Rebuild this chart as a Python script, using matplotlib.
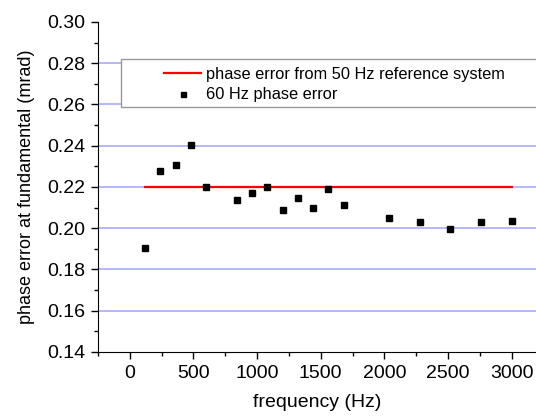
import numpy as np
import matplotlib.pyplot as plt
from matplotlib.patches import Rectangle
from matplotlib.ticker import MultipleLocator

plt.rcParams['font.family'] = ['Liberation Sans', 'DejaVu Sans']

freq = np.array([120, 240, 360, 480, 600, 840, 960, 1080, 1200, 1320,
                 1440, 1560, 1680, 2040, 2280, 2520, 2760, 3000])
phase_err = np.array([0.1903, 0.2278, 0.2309, 0.2404, 0.2202, 0.2135, 0.2172,
                      0.2202, 0.2088, 0.2146, 0.2098, 0.2190, 0.2114, 0.2049,
                      0.2030, 0.1994, 0.2031, 0.2035])

# reference level from the 50 Hz system
ref_freq = np.array([120, 3000])
ref_err = np.array([0.22, 0.22])

fig = plt.figure(figsize=(5.36, 4.2), dpi=100)
ax = fig.add_axes([98/536, 68/420, 1 - 98/536, 330/420])

ax.plot(ref_freq, ref_err, color='#ff0000', lw=1.6, zorder=3,
        label='phase error from 50 Hz reference system')
ax.plot(freq, phase_err, 's', color='black', ms=4.5, zorder=4,
        label='60 Hz phase error')

ax.set_xlim(-250, 3192)
ax.set_ylim(0.14, 0.30)
ax.xaxis.set_major_locator(MultipleLocator(500))
ax.xaxis.set_minor_locator(MultipleLocator(250))
ax.yaxis.set_major_locator(MultipleLocator(0.02))
ax.yaxis.set_minor_locator(MultipleLocator(0.01))
ax.yaxis.set_major_formatter(plt.FormatStrFormatter('%.2f'))

# horizontal grid only at the inner major ticks
inner = [t for t in ax.get_yticks() if 0.145 < t < 0.295]
ax.hlines(inner, 0, 1, transform=ax.get_yaxis_transform(),
          color='#aaaaff', lw=1.2, zorder=1)

for s in ['top', 'right']:
    ax.spines[s].set_visible(False)
ax.tick_params(which='major', direction='out', length=5, width=1, labelsize=14, pad=4)
ax.tick_params(which='minor', direction='out', length=3, width=1)

ax.set_xlabel('frequency (Hz)', fontsize=14, labelpad=9)
ax.set_ylabel('phase error at fundamental (mrad)', fontsize=13, labelpad=9)

# legend frame drawn as a plain rectangle, running off the right edge
ax.add_patch(Rectangle((0.0525, 0.742), 1.0, 0.146, transform=ax.transAxes,
                       facecolor='white', edgecolor='#999999', lw=1.0,
                       clip_on=False, zorder=5))
leg = ax.legend(loc='upper left', bbox_to_anchor=(0.135, 0.885), frameon=False,
                fontsize=11.8, handlelength=2.3, handletextpad=0.3,
                labelspacing=0.35, borderaxespad=0, markerscale=0.8)
leg.set_zorder(6)

fig.savefig('out.png', dpi=100)
